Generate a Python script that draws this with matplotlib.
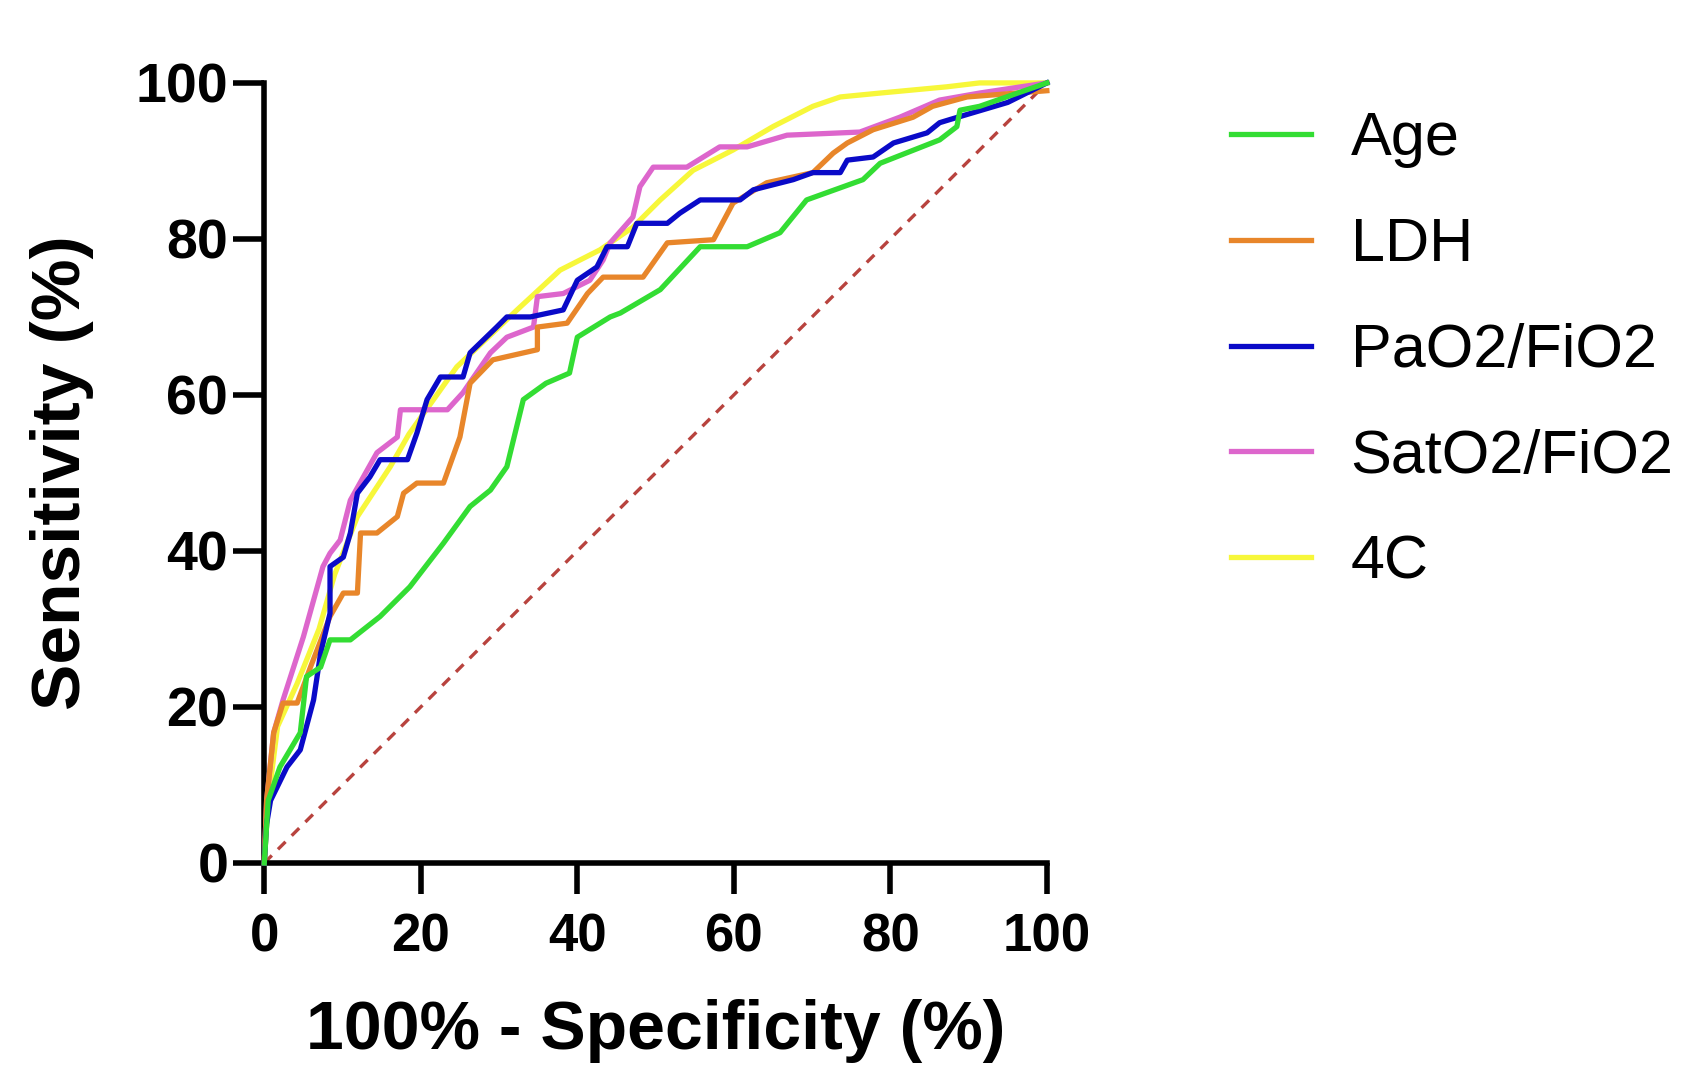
import matplotlib
matplotlib.use('Agg')
import matplotlib.pyplot as plt

plt.rcParams['font.family'] = ['Liberation Sans', 'DejaVu Sans']

# ROC curves (x = 100% - specificity, y = sensitivity)
age_x = [0, 0.5, 2, 4.6, 5.4, 7.2, 8.4, 11, 14.8, 18.6, 22.9, 26.3, 28.9, 31, 33.1, 36, 39, 40,
         44.2, 45.5, 50.6, 55.7, 61.7, 65.9, 69.3, 76.5, 78.7, 86.3, 88.5, 88.9, 91.4, 100]
age_y = [0, 8, 12.3, 16.7, 23.9, 25.1, 28.6, 28.6, 31.6, 35.4, 41, 45.7, 47.8, 50.8, 59.4, 61.5, 62.8, 67.4,
         70, 70.5, 73.5, 79, 79, 80.8, 85, 87.6, 89.7, 92.7, 94.4, 96.5, 97, 100]

ldh_x = [0, 0.3, 1.2, 2.4, 4.2, 5.9, 8.4, 10.1, 11.9, 12.3, 14.4, 17, 17.8, 19.5, 22.9, 25, 26.3, 29.2,
         34.9, 34.9, 38.7, 41.3, 43.3, 48.4, 51.5, 57.4, 59.9, 64.2, 70.1, 72.7, 74.5, 77.8, 82.9, 85.4, 89.8, 100]
ldh_y = [0, 8, 16.7, 20.5, 20.5, 25.1, 31.6, 34.6, 34.6, 42.3, 42.3, 44.4, 47.4, 48.7, 48.7, 54.6, 61.5, 64.5,
         65.8, 68.7, 69.2, 73, 75.1, 75.1, 79.5, 79.9, 84.6, 87.2, 88.5, 91, 92.3, 94, 95.6, 97, 98.2, 99]

pao2_x = [0, 0.3, 0.8, 2.9, 4.6, 6.3, 7.2, 8.4, 8.4, 10.1, 11, 11.9, 13.5, 14.8, 18.3, 19.5, 20.8, 22.5,
          25.4, 26.3, 29.7, 31, 34, 38.2, 40, 42.5, 43.8, 46.4, 47.6, 51.5, 53.1, 55.7, 60.8, 62.5, 67.6,
          70.1, 73.6, 74.5, 77.8, 80.4, 84.7, 86.3, 87.6, 95, 100]
pao2_y = [0, 5, 8, 12.3, 14.5, 20.9, 26.9, 32, 38, 39.2, 42.3, 47.4, 49.5, 51.7, 51.7, 55.1, 59.4, 62.3,
          62.3, 65.4, 68.7, 70, 70, 70.9, 74.7, 76.4, 79, 79, 82, 82, 83.3, 85, 85, 86.3, 87.6,
          88.5, 88.5, 90.1, 90.5, 92.3, 93.6, 94.9, 95.3, 97.5, 100]

sato2_x = [0, 0.3, 1.2, 2.4, 5, 7.5, 8.4, 9.7, 11, 14.4, 17, 17.4, 23.4, 25.4, 28.9, 31, 34.4, 34.9,
           38.2, 41.6, 43.3, 44.2, 47.1, 48, 49.7, 54, 58.2, 61.7, 66.8, 76.1, 81.2, 86.3, 91.4, 100]
sato2_y = [0, 8, 16.7, 20.9, 29, 38, 39.7, 41.4, 46.5, 52.6, 54.6, 58.1, 58.1, 60.3, 65.4, 67.4, 68.7, 72.6,
           73, 74.7, 77.3, 79.5, 82.8, 86.7, 89.2, 89.2, 91.8, 91.8, 93.3, 93.7, 95.6, 97.8, 98.7, 100]

c4_x = [0, 0.5, 1.7, 4.2, 7, 9, 11.9, 16.1, 18.5, 24.6, 32.3, 37.8, 42.9, 47.1, 50.6, 54.8, 59.9,
        65, 70.1, 73.6, 78.7, 87.2, 91.4, 100]
c4_y = [0, 8, 17.5, 23, 30, 37, 44.4, 50.8, 55, 63.6, 70.9, 76, 78.6, 81.5, 85, 88.8, 91.4,
        94.4, 97, 98.2, 98.7, 99.5, 100, 100]

ticks = [0, 20, 40, 60, 80, 100]

fig = plt.figure(figsize=(17.05, 10.81), dpi=100)
ax = fig.add_axes([0.155, 0.2017, 0.459, 0.7216])

ax.plot([0, 100], [0, 100], color='#b8433e', lw=2.4, ls=(0, (3.2, 2.6)), zorder=1, clip_on=False)
lw = 3.8
l_c4, = ax.plot(c4_x, c4_y, color='#f7f73a', lw=lw, label='4C', clip_on=False, zorder=2)
l_sat, = ax.plot(sato2_x, sato2_y, color='#dd66cc', lw=lw, label='SatO2/FiO2', clip_on=False, zorder=3)
l_ldh, = ax.plot(ldh_x, ldh_y, color='#e8862a', lw=lw, label='LDH', clip_on=False, zorder=4)
l_pao, = ax.plot(pao2_x, pao2_y, color='#0a0ac8', lw=lw, label='PaO2/FiO2', clip_on=False, zorder=5)
l_age, = ax.plot(age_x, age_y, color='#33dd33', lw=lw, label='Age', clip_on=False, zorder=6)

ax.set_xlim(0, 100); ax.set_ylim(0, 100)
ax.set_xticks(ticks); ax.set_yticks(ticks)
for s in ['top', 'right']:
    ax.spines[s].set_visible(False)
for s in ['left', 'bottom']:
    ax.spines[s].set_linewidth(4)
ax.tick_params(axis='both', length=22, width=4, direction='out')
ax.tick_params(axis='x', pad=14, labelsize=38)
ax.tick_params(axis='y', pad=4, labelsize=40)
for lab in ax.get_xticklabels() + ax.get_yticklabels():
    lab.set_fontweight('bold')

ax.set_xlabel('100% - Specificity (%)', fontsize=49, fontweight='bold', labelpad=26)
ax.set_ylabel('Sensitivity (%)', fontsize=50, fontweight='bold', labelpad=30)

fig.legend(handles=[l_age, l_ldh, l_pao, l_sat, l_c4], loc='upper left',
           bbox_to_anchor=(0.69, 0.948), frameon=False, fontsize=44,
           handlelength=1.3, handletextpad=0.65, labelspacing=0.8)

plt.savefig('out.png', dpi=100)
plt.close()
